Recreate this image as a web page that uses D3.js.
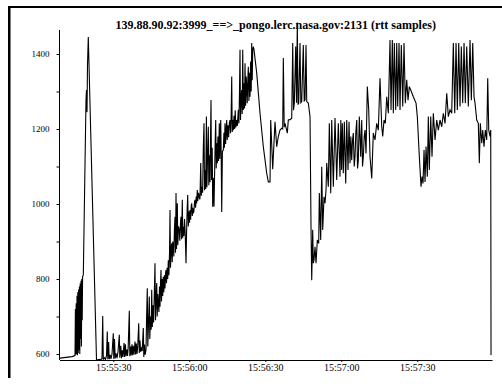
<!DOCTYPE html>
<html>
<head>
<meta charset="utf-8">
<script src="https://cdn.jsdelivr.net/npm/d3@7"></script>
<style>
  html, body { margin: 0; padding: 0; background: #fff; }
  svg { display: block; }
  .tick text { font-family: "Liberation Serif", "Times New Roman", serif; fill: #000; }
</style>
</head>
<body>
<svg id="chart" width="502" height="387"></svg>
<script>
// RTT samples: [seconds after 15:55:00, rtt in ms]
const slowStart = [
  [8.96, 589], [11.33, 591], [13.70, 593], [14.88, 596]
];
const firstBurst = [
  [15.04, 720], [15.20, 598], [15.35, 735], [15.51, 600], [15.67, 755], [15.83, 597],
  [15.99, 765], [16.14, 602], [16.30, 772], [16.46, 610], [16.62, 780], [16.77, 600],
  [16.93, 788], [17.09, 640], [17.25, 795], [17.41, 620], [17.56, 800], [17.72, 690],
  [17.88, 806], [18.16, 811]
];
const firstSpike = [
  [19.22, 1277], [19.42, 1304], [19.62, 1245], [19.81, 1370], [20.13, 1445], [23.37, 585]
];
const floorSamples = [
  [23.76, 584], [24.36, 586], [24.95, 584], [25.54, 588], [25.82, 701], [26.05, 586],
  [26.53, 590], [26.92, 585], [27.32, 596], [27.63, 660], [27.83, 586], [28.15, 632],
  [28.38, 586], [28.78, 598], [29.09, 587], [29.49, 600], [30.00, 655], [30.20, 587],
  [30.47, 640], [30.75, 588], [31.07, 602], [31.46, 589], [31.86, 606], [32.37, 651],
  [32.57, 590], [32.96, 622], [33.24, 589], [33.55, 610], [33.83, 592], [34.23, 629],
  [34.46, 592], [34.78, 626], [35.01, 594], [35.33, 612], [35.61, 595], [35.88, 618],
  [36.32, 715], [36.52, 594], [36.83, 620], [37.07, 596], [37.38, 626], [37.62, 597],
  [37.90, 622], [38.17, 598], [38.57, 633], [38.80, 599], [39.08, 628], [39.36, 600],
  [39.63, 620], [39.87, 656], [40.03, 682], [40.26, 603], [40.54, 636], [40.78, 606],
  [41.13, 615], [41.41, 608], [41.84, 669]
];
const rampSamples = [
  [42.04, 592], [42.32, 625], [42.59, 598], [42.91, 611], [43.15, 700], [43.42, 775],
  [43.62, 620], [43.90, 680], [44.21, 753], [44.41, 640], [44.69, 700], [44.96, 665],
  [45.16, 771], [45.40, 672], [45.67, 730], [45.91, 684], [46.19, 760], [46.46, 842],
  [46.66, 690], [46.90, 750], [47.14, 789], [47.33, 700], [47.57, 760], [47.77, 735],
  [48.00, 712], [48.24, 780], [48.44, 726], [48.64, 790], [48.83, 824], [49.03, 740],
  [49.27, 800], [49.50, 755], [49.74, 806], [49.94, 765], [50.18, 810], [50.41, 775],
  [50.61, 815], [50.81, 824], [51.00, 789], [51.24, 830], [51.48, 800], [51.72, 850],
  [51.95, 810], [52.19, 870], [52.39, 984], [52.58, 830], [52.82, 880], [53.06, 895],
  [53.25, 845], [53.49, 900], [53.69, 886], [53.89, 860], [54.12, 930], [54.36, 966],
  [54.56, 870], [54.76, 1029], [54.95, 880], [55.27, 1002], [55.47, 890], [55.74, 940],
  [56.06, 931], [56.26, 902], [56.53, 950], [56.73, 966], [56.97, 906], [57.24, 1011],
  [57.44, 910], [57.64, 939], [57.87, 915], [58.11, 960], [58.39, 920], [58.70, 842],
  [58.94, 930], [59.18, 990], [59.37, 1024], [59.61, 940], [59.89, 980], [60.08, 950],
  [60.28, 984], [60.52, 958], [60.76, 995], [60.95, 1002], [61.19, 968], [61.39, 990],
  [61.59, 975], [61.82, 980], [62.06, 1005], [62.26, 1011], [62.49, 990], [62.73, 1020],
  [62.93, 1002], [63.16, 1037], [63.36, 1008], [63.64, 1030], [63.95, 1019], [64.15, 1012],
  [64.23, 1019], [64.51, 1109], [64.74, 1022], [65.02, 1046], [65.26, 1030], [65.53, 1150],
  [65.81, 1215], [66.01, 1037], [66.28, 1090], [66.48, 1040], [66.76, 1233], [66.95, 1045],
  [67.19, 1120], [67.51, 1206], [67.70, 1050], [67.94, 1130], [68.18, 1058], [68.38, 1180],
  [68.57, 1277], [68.77, 1064], [69.05, 1150], [69.24, 993], [69.48, 1070], [69.76, 993],
  [69.99, 1080], [70.23, 1170], [70.43, 1224], [70.63, 1095], [70.86, 1162], [71.06, 1109],
  [71.30, 1180], [71.53, 1115], [71.85, 1215], [72.05, 1120], [72.40, 1224], [72.60, 1125],
  [72.80, 979], [73.07, 1140], [73.43, 1144], [73.67, 1190], [73.86, 1150], [74.10, 1215],
  [74.34, 1160], [74.57, 1200], [74.77, 1224], [74.97, 1171], [75.28, 1210], [75.52, 1178],
  [75.80, 1215], [76.07, 1224], [76.27, 1189], [76.51, 1230], [76.75, 1340], [76.94, 1192],
  [77.18, 1224], [77.38, 1197], [77.65, 1235], [77.89, 1200], [78.13, 1250], [78.36, 1204],
  [78.72, 1224], [78.96, 1208], [79.35, 1251], [79.59, 1215], [79.82, 1300], [80.02, 1411],
  [80.22, 1224], [80.46, 1280], [80.69, 1304], [80.89, 1240], [81.09, 1411], [81.33, 1251],
  [81.60, 1322], [81.80, 1255], [82.00, 1375], [82.23, 1262], [82.47, 1340], [82.67, 1313],
  [82.86, 1269], [83.10, 1330], [83.30, 1366], [83.54, 1275], [83.77, 1350], [83.97, 1286],
  [84.21, 1380], [84.44, 1300], [84.64, 1429], [84.84, 1330], [85.04, 1411], [85.27, 1420],
  [85.55, 1411]
];
const midSamples = [
  [86.62, 1349], [87.92, 1242], [89.22, 1153], [90.56, 1082], [91.20, 1059], [91.87, 1059],
  [92.14, 1224], [92.93, 1093], [93.84, 1219], [94.51, 1153], [95.14, 1180], [95.81, 1197],
  [96.49, 1202], [96.88, 1200], [97.12, 1389], [97.47, 1205], [97.79, 1215], [98.70, 1189],
  [99.09, 1224], [99.76, 1225], [100.43, 1229], [100.83, 1429], [101.14, 1250], [101.46, 1269],
  [102.01, 1420], [102.33, 1270], [102.64, 1484], [102.92, 1265], [103.20, 1269], [103.71, 1429],
  [104.03, 1270], [104.38, 1273], [105.01, 1424], [105.37, 1275], [105.68, 1277], [106.08, 1424],
  [106.36, 1273], [106.99, 1269], [107.66, 1233], [108.05, 939], [108.33, 797], [108.72, 931],
  [108.96, 842], [109.24, 851], [109.63, 886], [110.03, 842], [110.54, 904], [111.09, 895],
  [111.33, 1029], [111.88, 904], [112.28, 1099], [112.67, 931], [113.19, 1019], [113.58, 1002],
  [113.98, 1037], [114.25, 1109], [114.88, 1046], [115.28, 1215], [115.83, 1029], [116.23, 1224],
  [116.86, 1046], [117.53, 1229], [118.20, 1064], [118.83, 1215]
];
const lateSamples = [
  [119.50, 1073], [119.82, 1224], [120.13, 1091], [120.41, 1215], [120.80, 1082], [121.20, 1219],
  [121.75, 1055], [122.15, 1224], [122.66, 1091], [123.06, 1219], [123.45, 1109], [123.77, 1180],
  [124.12, 1117], [124.44, 1170], [124.75, 1189], [125.11, 1100], [125.42, 1126], [125.74, 1190],
  [126.10, 1224], [126.41, 1095], [126.73, 1117], [127.12, 1233], [127.67, 1126], [128.07, 1224],
  [128.39, 1100], [128.70, 1126], [129.06, 1180], [129.37, 1197], [129.77, 1135], [130.28, 1313],
  [130.83, 1251], [131.35, 1126], [132.02, 1068], [132.65, 1189], [133.32, 1171], [133.99, 1215],
  [134.62, 1197], [135.29, 1335], [135.97, 1206], [136.36, 1180], [136.87, 1224], [137.39, 1215],
  [137.94, 1286], [138.57, 1242], [139.24, 1437], [139.64, 1251], [140.15, 1437], [140.55, 1242],
  [140.94, 1429], [141.49, 1251], [141.89, 1429], [142.28, 1260], [142.80, 1429], [143.19, 1251],
  [143.70, 1424], [144.26, 1260], [144.77, 1429], [145.28, 1269], [145.84, 1331], [146.35, 1277],
  [146.86, 1313], [147.41, 1304], [148.44, 1286], [149.51, 1269], [150.02, 1233], [150.81, 1126],
  [151.48, 1046], [151.88, 1073], [152.27, 1055], [152.67, 1144], [153.06, 1059], [153.46, 1153],
  [153.97, 1073], [154.36, 1233], [154.76, 1091], [155.31, 1233], [155.82, 1126], [156.34, 1242],
  [157.01, 1171], [157.68, 1224], [158.31, 1197], [158.98, 1224], [159.65, 1206], [160.29, 1242],
  [160.96, 1215], [161.63, 1295], [162.26, 1233], [162.93, 1251], [163.60, 1242], [164.23, 1429],
  [164.79, 1242], [165.30, 1429], [165.81, 1251], [166.37, 1429], [166.88, 1260], [167.39, 1420],
  [167.94, 1269], [168.46, 1429], [168.97, 1269], [169.52, 1420], [170.16, 1260], [170.83, 1437],
  [171.34, 1277], [171.89, 1429], [172.41, 1286], [172.80, 1269], [173.47, 1224], [174.10, 1215],
  [174.50, 1109], [174.89, 1215], [175.45, 1162], [175.84, 1197], [176.35, 1153], [176.87, 1197],
  [177.42, 1171], [177.81, 1335], [178.21, 1197], [178.72, 1180], [179.00, 1197], [179.12, 597]
];

const yMajorTicks = [600, 800, 1000, 1200, 1400];
const yMinorTicks = [700, 900, 1100, 1300];
const timeDomainSeconds = [8.76, 179.5];
const rttDomain = [584, 1464];
const chartTitle = "139.88.90.92:3999_==>_pongo.lerc.nasa.gov:2131 (rtt samples)";

const samples = [].concat(slowStart, firstBurst, firstSpike, floorSamples,
                          rampSamples, midSamples, lateSamples);

const base = new Date(2000, 0, 1, 15, 55, 0).getTime();
const toTime = s => new Date(base + s * 1000);

const svg = d3.select("#chart");
const plot = { left: 59.5, right: 492, top: 30, bottom: 360 };

const x = d3.scaleTime()
  .domain(timeDomainSeconds.map(toTime))
  .range([plot.left, plot.right]);
const y = d3.scaleLinear()
  .domain(rttDomain)
  .range([plot.bottom, plot.top]);

// outer frame (top and left edges)
svg.append("rect").attr("x", 8).attr("y", 6).attr("width", 494).attr("height", 2).attr("fill", "#000");
svg.append("rect").attr("x", 8).attr("y", 6).attr("width", 2.5).attr("height", 372).attr("fill", "#000");

// title
svg.append("text")
  .attr("x", (plot.left + plot.right) / 2)
  .attr("y", 29)
  .attr("text-anchor", "middle")
  .attr("font-family", "'Liberation Serif', 'Times New Roman', serif")
  .attr("font-weight", "bold")
  .attr("font-size", 12)
  .text(chartTitle);

// y axis: labelled majors, unlabelled minors
const yAxis = d3.axisLeft(y)
  .tickValues(yMajorTicks)
  .tickFormat(d3.format("d"))
  .tickSize(3)
  .tickPadding(7)
  .tickSizeOuter(0);
const gy = svg.append("g")
  .attr("transform", `translate(${plot.left},0)`)
  .call(yAxis);
gy.selectAll(".tick text").attr("font-size", 9);
gy.select(".domain").attr("d", `M0,${plot.top}V${plot.bottom}`).attr("stroke", "#000");

svg.append("g")
  .attr("transform", `translate(${plot.left},0)`)
  .call(d3.axisLeft(y).tickValues(yMinorTicks).tickSize(3).tickFormat(""))
  .select(".domain").remove();

// x axis
const xAxis = d3.axisBottom(x)
  .ticks(d3.timeSecond.every(30))
  .tickFormat(d3.timeFormat("%H:%M:%S"))
  .tickSize(2)
  .tickPadding(2)
  .tickSizeOuter(0);
const gx = svg.append("g")
  .attr("transform", `translate(0,${plot.bottom})`)
  .call(xAxis);
gx.selectAll(".tick text").attr("font-size", 10);

// rtt series
const line = d3.line()
  .x(d => x(toTime(d[0])))
  .y(d => y(d[1]));

svg.append("path")
  .datum(samples)
  .attr("fill", "none")
  .attr("stroke", "#000")
  .attr("stroke-width", 1.1)
  .attr("stroke-linejoin", "miter")
  .attr("d", line);
</script>
</body>
</html>
